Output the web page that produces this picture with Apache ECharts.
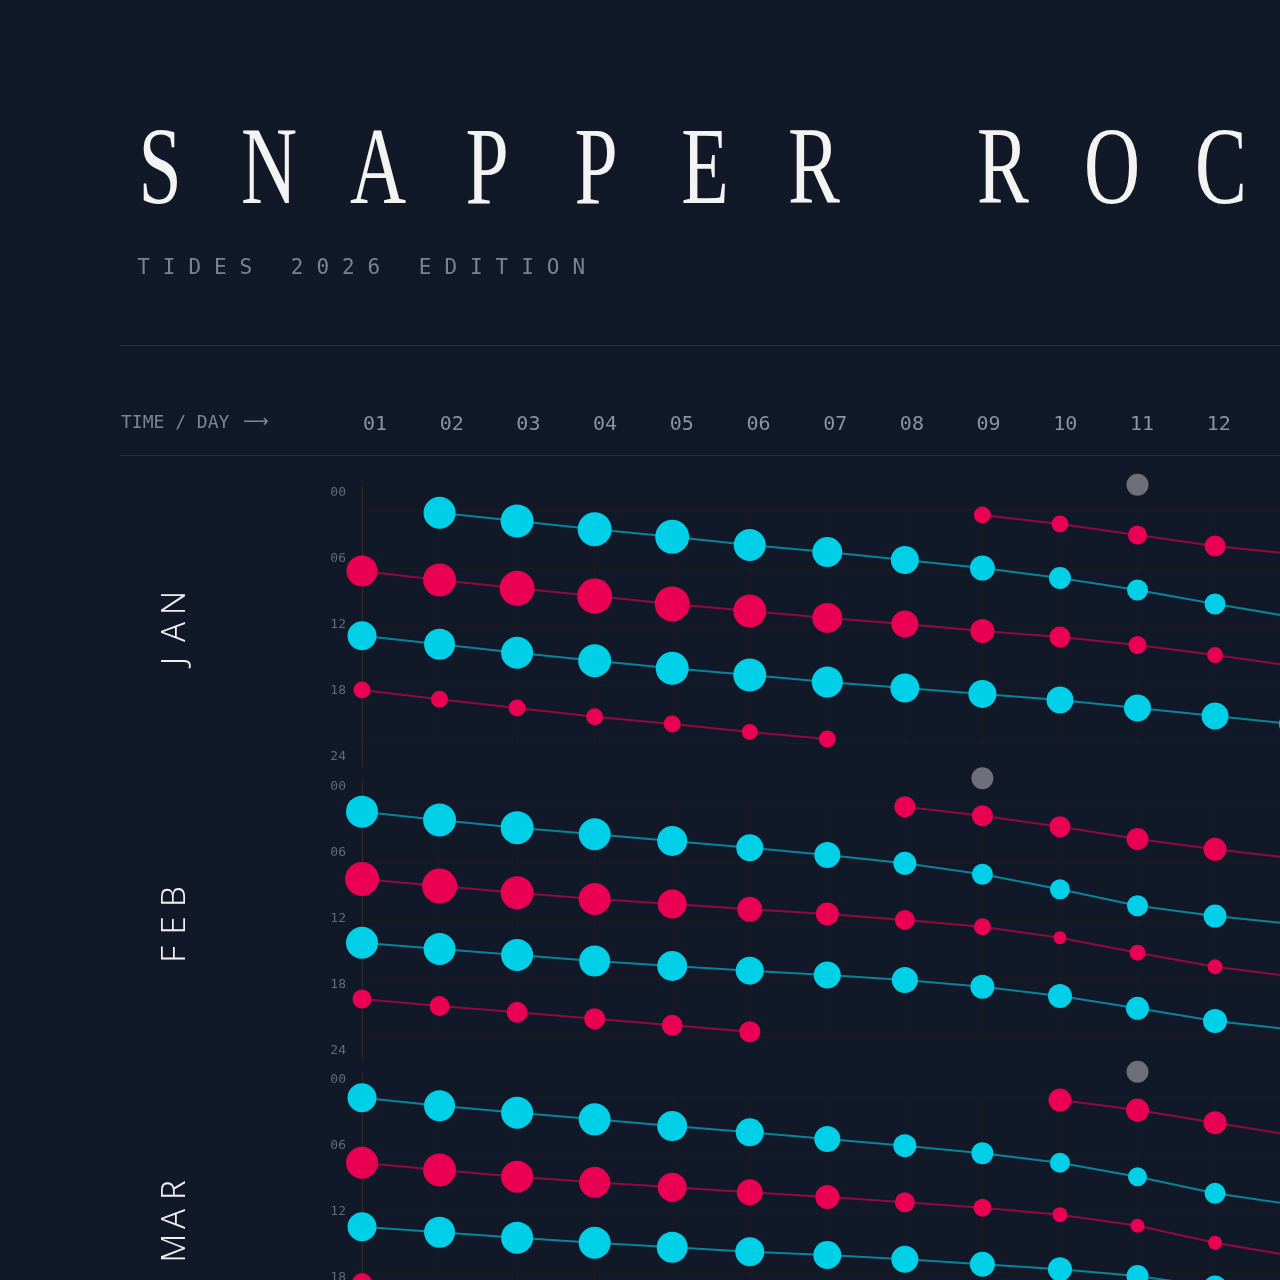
<!DOCTYPE html>
<html><head><meta charset="utf-8">
<script src="https://cdn.jsdelivr.net/npm/echarts@6/dist/echarts.min.js"></script>
<style>html,body{margin:0;padding:0;background:#111827;}#c{width:1280px;height:1280px;}</style>
</head><body><div id="c"></div>
<script>
// ---------- data ----------
const DAYS = [1,2,3,4,5,6,7,8,9,10,11,12,13];
const DAY_LABELS = ['01','02','03','04','05','06','07','08','09','10','11','12','13'];
const HOUR_TICKS = [0,6,12,18,24];
const HOUR_LABELS = ['00','06','12','18','24'];
const MONTHS = ['JAN','FEB','MAR'];
const TITLE = 'SNAPPER ROCKS';
const SUBTITLE = 'TIDES 2026 EDITION';
const HEADER = 'TIME / DAY';
const HEADER_ARROW = '\u27F6';

// tide times (hours) per day, and tide magnitude (m) per day
// JANUARY
const janHighA_t = [6.28,7.21,8.07,8.86,9.68,10.40,11.12,11.74,12.46,13.08,13.91,14.94,16.07];
const janHighA_m = [1.55,1.65,1.75,1.75,1.75,1.65,1.5,1.35,1.2,1.05,0.9,0.8,0.75];
const janHighB_t = [18.54,19.50,20.40,21.29,22.04,22.87,23.59,null,null,null,null,null,null];
const janHighB_m = [0.85,0.85,0.85,0.85,0.85,0.8,0.85,null,null,null,null,null,null];
const janHighC_t = [null,null,null,null,null,null,null,null,0.52,1.44,2.58,3.71,4.53];
const janHighC_m = [null,null,null,null,null,null,null,null,0.85,0.85,0.95,1.05,1.1];
const janLowA_t  = [null,0.28,1.13,1.99,2.75,3.61,4.33,5.15,5.98,7.0,8.24,9.68,11.02];
const janLowA_m  = [null,1.6,1.65,1.7,1.7,1.6,1.5,1.4,1.25,1.1,1.05,1.05,1.05];
const janLowB_t  = [12.95,13.83,14.70,15.52,16.31,17.0,17.72,18.34,18.95,19.57,20.40,21.22,22.04];
const janLowB_m  = [1.45,1.55,1.6,1.65,1.65,1.65,1.55,1.45,1.4,1.35,1.35,1.35,1.35];
// FEBRUARY
const febHighA_t = [7.78,8.50,9.19,9.84,10.35,10.90,11.38,12.0,12.69,13.82,15.37,16.81,17.83];
const febHighA_m = [1.7,1.75,1.65,1.6,1.45,1.25,1.15,1.0,0.85,0.65,0.8,0.75,0.75];
const febHighB_t = [20.14,20.86,21.51,22.17,22.85,23.51,null,null,null,null,null,null,null];
const febHighB_m = [0.95,1.0,1.05,1.05,1.05,1.05,null,null,null,null,null,null,null];
const febHighC_t = [null,null,null,null,null,null,null,0.33,1.26,2.39,3.66,4.72,5.62];
const febHighC_m = [null,null,null,null,null,null,null,1.05,1.05,1.05,1.1,1.15,1.2];
const febLowA_t  = [0.84,1.70,2.49,3.17,3.86,4.55,5.30,6.16,7.29,8.84,10.53,11.59,12.41];
const febLowA_m  = [1.6,1.65,1.65,1.6,1.5,1.35,1.3,1.15,1.05,1.0,1.05,1.15,1.2];
const febLowB_t  = [14.34,14.99,15.61,16.22,16.74,17.22,17.67,18.18,18.87,19.83,21.10,22.40,23.30];
const febLowB_m  = [1.6,1.6,1.6,1.55,1.5,1.4,1.35,1.3,1.2,1.2,1.15,1.2,1.25];
// MARCH
const marHighA_t = [6.77,7.52,8.21,8.79,9.30,9.82,10.30,10.85,11.40,12.12,13.26,15.01,16.38];
const marHighA_m = [1.6,1.65,1.6,1.55,1.45,1.3,1.2,1.0,0.9,0.75,0.7,0.7,0.75];
const marHighB_t = [19.16,19.88,20.60,21.22,21.84,22.46,23.10,null,null,null,null,null,null];
const marHighB_m = [1.0,1.0,1.05,1.05,1.05,1.05,1.05,null,null,null,null,null,null];
const marHighC_t = [null,null,null,null,null,null,null,null,null,0.31,1.34,2.65,3.95];
const marHighC_m = [null,null,null,null,null,null,null,null,null,1.15,1.15,1.15,1.15];
const marLowA_t  = [0.07,0.90,1.62,2.30,2.99,3.64,4.33,5.02,5.80,6.77,8.21,9.92,11.07];
const marLowA_m  = [1.45,1.55,1.6,1.6,1.5,1.4,1.3,1.15,1.1,1.0,0.95,1.05,1.1];
const marLowB_t  = [13.36,13.94,14.49,15.01,15.48,15.94,16.28,16.72,17.23,17.75,18.44,19.57,20.60];
const marLowB_m  = [1.45,1.55,1.6,1.6,1.55,1.45,1.4,1.35,1.25,1.2,1.1,1.15,1.2];
// moon-phase marker days
const janMoon = [11];
const febMoon = [9];
const marMoon = [11];

// ---------- style ----------
const BG = '#111827';
const RED = '#ea0052';
const CYAN = '#00cfe8';
const GREY = '#6e6f78';
const GRIDC = '#191b21';
const MONO = '"DejaVu Sans Mono", monospace';
const SIZE_PER_M = 20;
const MOON_ROW = -2.6;

const CHAINS = [
  [0,'high',janHighA_t,janHighA_m],[0,'high',janHighB_t,janHighB_m],[0,'high',janHighC_t,janHighC_m],
  [0,'low',janLowA_t,janLowA_m],[0,'low',janLowB_t,janLowB_m],
  [1,'high',febHighA_t,febHighA_m],[1,'high',febHighB_t,febHighB_m],[1,'high',febHighC_t,febHighC_m],
  [1,'low',febLowA_t,febLowA_m],[1,'low',febLowB_t,febLowB_m],
  [2,'high',marHighA_t,marHighA_m],[2,'high',marHighB_t,marHighB_m],[2,'high',marHighC_t,marHighC_m],
  [2,'low',marLowA_t,marLowA_m],[2,'low',marLowB_t,marLowB_m]
];
const MOONS = [janMoon, febMoon, marMoon];

const BAND = 293.5;
const grids = [], xAxes = [], yAxes = [], series = [];
MONTHS.forEach((name, m) => {
  const plotTop = 510 + BAND * m, frameTop = 486 + BAND * m;
  grids.push({left: 362, right: -12.6, top: plotTop, height: 233, outerBoundsMode: 'none', containLabel: false});
  grids.push({left: 362, right: -12.6, top: frameTop, height: 281, outerBoundsMode: 'none', containLabel: false});
  xAxes.push({gridIndex: 2*m, type: 'value', min: 1, max: 13, interval: 1,
    axisLine: {show: false}, axisTick: {show: false}, axisLabel: {show: false},
    splitLine: {show: true, lineStyle: {color: GRIDC, width: 1}}});
  xAxes.push({gridIndex: 2*m+1, type: 'value', position: 'top', min: 1, max: 13, interval: 1,
    axisLine: {show: false}, axisTick: {show: false}, splitLine: {show: false}, axisLabel: {show: false}});
  yAxes.push({gridIndex: 2*m, type: 'value', inverse: true, min: 0, max: 24, interval: 6,
    axisLine: {show: false}, axisTick: {show: false}, axisLabel: {show: false},
    splitLine: {show: true, lineStyle: {color: GRIDC, width: 1}}});
  yAxes.push({gridIndex: 2*m+1, type: 'value', inverse: true, min: -0.636, max: 24.909,
    axisLine: {show: true, lineStyle: {color: '#2e2b2a', width: 1}}, axisTick: {show: false},
    splitLine: {show: false},
    axisLabel: {customValues: HOUR_TICKS, margin: 16, color: '#636a76', fontFamily: MONO, fontSize: 13,
      formatter: v => HOUR_LABELS[HOUR_TICKS.indexOf(v)] || ''}});
  series.push({type: 'scatter', xAxisIndex: 2*m, yAxisIndex: 2*m, clip: false, silent: true,
    symbolSize: 22, itemStyle: {color: GREY, opacity: 1}, data: MOONS[m].map(d => [d, MOON_ROW])});
});
// header row axis (day numbers)
grids.push({left: 375, right: -15.4, top: 405, height: 34, outerBoundsMode: 'none', containLabel: false});
xAxes.push({gridIndex: 6, type: 'value', position: 'bottom', min: 1, max: 13, interval: 1,
  axisLine: {show: false}, axisTick: {show: false}, splitLine: {show: false},
  axisLabel: {show: true, margin: -24, color: '#8b92a0', fontFamily: MONO, fontSize: 20,
    formatter: v => DAY_LABELS[DAYS.indexOf(v)] || ''}});
yAxes.push({gridIndex: 6, type: 'value', min: 0, max: 1, show: false});

CHAINS.forEach(([m, kind, times, mags]) => {
  const c = kind === 'high' ? RED : CYAN;
  const data = [];
  times.forEach((t, i) => { if (t !== null) data.push({value: [DAYS[i], t], symbolSize: mags[i] * SIZE_PER_M}); });
  series.push({type: 'line', xAxisIndex: 2*m, yAxisIndex: 2*m, data, symbol: 'circle', showSymbol: true,
    showAllSymbol: true, silent: true, itemStyle: {color: c, opacity: 1, borderWidth: 0},
    lineStyle: {color: c, width: 2, opacity: 0.6}, emphasis: {disabled: true}});
});

// ---------- graphics (titles, rules, month labels) ----------
const graphic = [];
let cx = 160;
TITLE.split('').forEach(ch => {
  if (ch === ' ') { cx += 80; return; }
  graphic.push({type: 'text', x: cx, y: 174, scaleX: 0.7, silent: true,
    style: {text: ch, fontSize: 111, fontFamily: '"Liberation Serif", serif', fill: '#f3f3f1', align: 'center', verticalAlign: 'middle'}});
  cx += 109;
});
SUBTITLE.split('').forEach((ch, i) => {
  graphic.push({type: 'text', x: 143.5 + i * 25.6, y: 269, silent: true,
    style: {text: ch, fontSize: 21, fontFamily: MONO, fill: '#7b8291', align: 'center', verticalAlign: 'middle'}});
});
graphic.push({type: 'text', x: 121, y: 423, silent: true,
  style: {text: HEADER, fontSize: 18, fontFamily: MONO, fill: '#7d8493', align: 'left', verticalAlign: 'middle'}});
graphic.push({type: 'text', x: 243, y: 422, silent: true,
  style: {text: HEADER_ARROW, fontSize: 18, fontFamily: '"DejaVu Sans", sans-serif', fill: '#7d8493', align: 'left', verticalAlign: 'middle'}});
[345.5, 455.5].forEach(y => graphic.push({type: 'line', silent: true,
  shape: {x1: 120, y1: y, x2: 1280, y2: y}, style: {stroke: '#2a2f39', lineWidth: 1}}));
MONTHS.forEach((name, m) => {
  const base = 486 + BAND * m + 146;
  const n = name.length;
  name.split('').forEach((ch, i) => {
    graphic.push({type: 'text', x: 176, y: base - (i - (n - 1) / 2) * 29, rotation: Math.PI / 2, silent: true,
      style: {text: ch, fontSize: 33, fontWeight: 300, fontFamily: '"Noto Sans", sans-serif', fill: '#eef0f3', align: 'center', verticalAlign: 'middle'}});
  });
});

const chart = echarts.init(document.getElementById('c'), null, {renderer: 'canvas'});
chart.setOption({
  backgroundColor: BG,
  animation: false,
  grid: grids, xAxis: xAxes, yAxis: yAxes, series, graphic
});
</script></body></html>
